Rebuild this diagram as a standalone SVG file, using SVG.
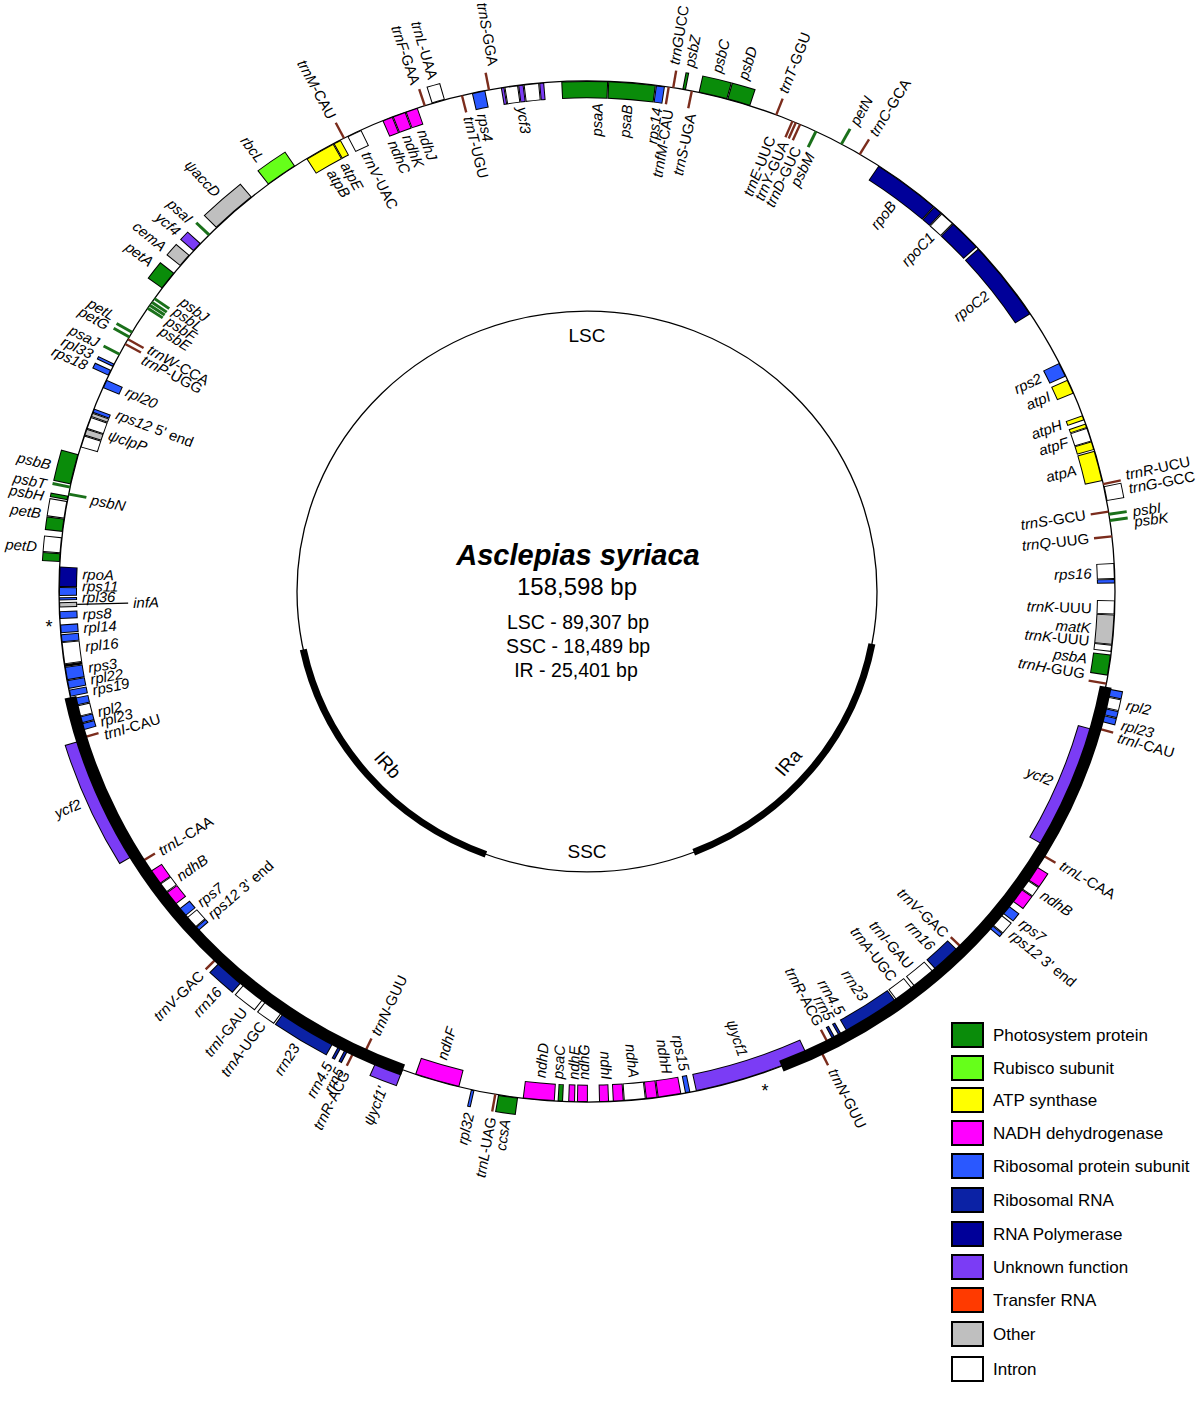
<svg xmlns="http://www.w3.org/2000/svg" width="1200" height="1403" viewBox="0 0 1200 1403">
<style>
text{font-family:"Liberation Sans",Arial,Helvetica,sans-serif;fill:#000}
.l{font-size:15px;dominant-baseline:central}
.a{text-anchor:start}.e{text-anchor:end}
.i{font-style:italic}
.o{fill:none;stroke:#000;stroke-width:18}
.f{fill:none;stroke-width:16}
.PS{stroke:#0a8c0a}.RU{stroke:#66ff1a}.AT{stroke:#ffff00}.ND{stroke:#ff00ff}.RP{stroke:#2a58ff}.RR{stroke:#0b22a5}.PO{stroke:#000099}.UN{stroke:#7b3cf5}.OT{stroke:#bfbfbf}.IN{stroke:#ffffff}
.t{stroke:#7b2c1c;stroke-width:2.4}
.g{stroke:#1a701a;stroke-width:3}
.ring{fill:none;stroke:#000;stroke-width:1.3}
.band{fill:none;stroke:#000;stroke-width:12}
.iband{fill:none;stroke:#000;stroke-width:7}
.ic{font-size:19px;text-anchor:middle;dominant-baseline:central}
.lg{font-size:17px}
.lb{stroke:#000;stroke-width:2}
</style>
<rect width="1200" height="1403" fill="#fff"/>
<g id="map" transform="translate(587,591.5) scale(1,0.967)">
<circle class="ring" r="528"/>
<g id="genes">
<!-- LSC right -->
<g id="psaA"><circle class="o" r="519" pathLength="360" stroke-dasharray="5.1 360" transform="rotate(267.2)"/><circle class="f PS" r="519" pathLength="360" stroke-dasharray="4.88 360" transform="rotate(267.31)"/><text class="l e i" transform="rotate(1.2) translate(0,-505) rotate(-90)">psaA</text></g>
<g id="psaB"><circle class="o" r="519" pathLength="360" stroke-dasharray="5.2 360" transform="rotate(-87.7)"/><circle class="f PS" r="519" pathLength="360" stroke-dasharray="4.98 360" transform="rotate(-87.59)"/><text class="l e i" transform="rotate(4.6) translate(0,-505) rotate(-90)">psaB</text></g>
<g id="rps14"><circle class="o" r="519" pathLength="360" stroke-dasharray="1 360" transform="rotate(-82.5)"/><circle class="f RP" r="519" pathLength="360" stroke-dasharray="0.78 360" transform="rotate(-82.39)"/><text class="l e i" transform="rotate(8) translate(0,-505) rotate(-90)">rps14</text></g>
<g id="trnfM-CAU"><line class="t" y1="-528" y2="-510" transform="rotate(8.9)"/><text class="l e" transform="rotate(9.3) translate(0,-505) rotate(-90)"><tspan class="i">trnfM</tspan>-CAU</text></g>
<g id="trnG-UCC"><line class="t" y1="-528" y2="-546" transform="rotate(9.4)"/><text class="l a" transform="rotate(9.1) translate(0,-552) rotate(-90)"><tspan class="i">trnG</tspan>UCC</text></g>
<g id="psbZ"><circle class="o" r="537" pathLength="360" stroke-dasharray="0.4 360" transform="rotate(-79.6)"/><circle class="f PS" r="537" pathLength="360" stroke-dasharray="0.18 360" transform="rotate(-79.49)"/><text class="l a i" transform="rotate(10.7) translate(0,-552) rotate(-90)">psbZ</text></g>
<g id="trnS-UGA"><line class="t" y1="-528" y2="-510" transform="rotate(11.45)"/><text class="l e" transform="rotate(11.9) translate(0,-505) rotate(-90)"><tspan class="i">trnS</tspan>-UGA</text></g>
<g id="psbC"><circle class="o" r="537" pathLength="360" stroke-dasharray="3.2 360" transform="rotate(-77.8)"/><circle class="f PS" r="537" pathLength="360" stroke-dasharray="2.98 360" transform="rotate(-77.69)"/><text class="l a i" transform="rotate(13.6) translate(0,-552) rotate(-90)">psbC</text></g>
<g id="psbD"><circle class="o" r="537" pathLength="360" stroke-dasharray="2.6 360" transform="rotate(-74.6)"/><circle class="f PS" r="537" pathLength="360" stroke-dasharray="2.38 360" transform="rotate(-74.49)"/><text class="l a i" transform="rotate(16.4) translate(0,-552) rotate(-90)">psbD</text></g>
<g id="trnT-GGU"><line class="t" y1="-528" y2="-546" transform="rotate(21)"/><text class="l a" transform="rotate(20.8) translate(0,-552) rotate(-90)"><tspan class="i">trnT</tspan>-GGU</text></g>
<g id="trnE-UUC"><line class="t" y1="-528" y2="-510" transform="rotate(22.9)"/><text class="l e" transform="rotate(21.4) translate(0,-505) rotate(-90)"><tspan class="i">trnE</tspan>-UUC</text></g>
<g id="trnY-GUA"><line class="t" y1="-528" y2="-510" transform="rotate(23.3)"/><text class="l e" transform="rotate(23) translate(0,-505) rotate(-90)"><tspan class="i">trnY</tspan>-GUA</text></g>
<g id="trnD-GUC"><line class="t" y1="-528" y2="-510" transform="rotate(23.8)"/><text class="l e" transform="rotate(24.6) translate(0,-505) rotate(-90)"><tspan class="i">trnD</tspan>-GUC</text></g>
<g id="psbM"><line class="g" y1="-528" y2="-510" transform="rotate(25.7)"/><text class="l e i" transform="rotate(26.3) translate(0,-505) rotate(-90)">psbM</text></g>
<g id="petN"><line class="g" y1="-528" y2="-546" transform="rotate(28.8)"/><text class="l a i" transform="rotate(28.9) translate(0,-552) rotate(-90)">petN</text></g>
<g id="trnC-GCA"><line class="t" y1="-528" y2="-546" transform="rotate(31.1)"/><text class="l a" transform="rotate(31.2) translate(0,-552) rotate(-90)"><tspan class="i">trnC</tspan>-GCA</text></g>
<g id="rpoB"><circle class="o" r="519" pathLength="360" stroke-dasharray="7.6 360" transform="rotate(-56.5)"/><circle class="f PO" r="519" pathLength="360" stroke-dasharray="7.38 360" transform="rotate(-56.39)"/><text class="l e i" transform="rotate(37.3) translate(0,-505) rotate(-90)">rpoB</text></g>
<g id="rpoC1"><circle class="o" r="519" pathLength="360" stroke-dasharray="1.1 360" transform="rotate(-48.9)"/><circle class="f PO" r="519" pathLength="360" stroke-dasharray="0.88 360" transform="rotate(-48.79)"/><circle class="o" r="519" pathLength="360" stroke-dasharray="1.7 360" transform="rotate(-47.8)"/><circle class="f IN" r="519" pathLength="360" stroke-dasharray="1.48 360" transform="rotate(-47.69)"/><circle class="o" r="519" pathLength="360" stroke-dasharray="3.7 360" transform="rotate(-46.1)"/><circle class="f PO" r="519" pathLength="360" stroke-dasharray="3.48 360" transform="rotate(-45.99)"/><text class="l e i" transform="rotate(43.1) translate(0,-505) rotate(-90)">rpoC1</text></g>
<g id="rpoC2"><circle class="o" r="519" pathLength="360" stroke-dasharray="9.3 360" transform="rotate(-42.2)"/><circle class="f PO" r="519" pathLength="360" stroke-dasharray="9.08 360" transform="rotate(-42.09)"/><text class="l e i" transform="rotate(52.5) translate(0,-505) rotate(-90)">rpoC2</text></g>
<g id="rps2"><circle class="o" r="519" pathLength="360" stroke-dasharray="1.7 360" transform="rotate(-26.6)"/><circle class="f RP" r="519" pathLength="360" stroke-dasharray="1.48 360" transform="rotate(-26.49)"/><text class="l e i" transform="rotate(64) translate(0,-505) rotate(-90)">rps2</text></g>
<g id="atpI"><circle class="o" r="519" pathLength="360" stroke-dasharray="1.7 360" transform="rotate(-24.5)"/><circle class="f AT" r="519" pathLength="360" stroke-dasharray="1.48 360" transform="rotate(-24.39)"/><text class="l e i" transform="rotate(66.4) translate(0,-505) rotate(-90)">atpI</text></g>
<g id="atpH"><circle class="o" r="519" pathLength="360" stroke-dasharray="0.6 360" transform="rotate(-20.2)"/><circle class="f AT" r="519" pathLength="360" stroke-dasharray="0.38 360" transform="rotate(-20.09)"/><text class="l e i" transform="rotate(70) translate(0,-505) rotate(-90)">atpH</text></g>
<g id="atpF"><circle class="o" r="519" pathLength="360" stroke-dasharray="0.5 360" transform="rotate(-19.2)"/><circle class="f AT" r="519" pathLength="360" stroke-dasharray="0.28 360" transform="rotate(-19.09)"/><circle class="o" r="519" pathLength="360" stroke-dasharray="1.6 360" transform="rotate(-18.7)"/><circle class="f IN" r="519" pathLength="360" stroke-dasharray="1.38 360" transform="rotate(-18.59)"/><circle class="o" r="519" pathLength="360" stroke-dasharray="1 360" transform="rotate(-17.1)"/><circle class="f AT" r="519" pathLength="360" stroke-dasharray="0.78 360" transform="rotate(-16.99)"/><text class="l e i" transform="rotate(72.2) translate(0,-505) rotate(-90)">atpF</text></g>
<g id="atpA"><circle class="o" r="519" pathLength="360" stroke-dasharray="3.5 360" transform="rotate(-16)"/><circle class="f AT" r="519" pathLength="360" stroke-dasharray="3.28 360" transform="rotate(-15.89)"/><text class="l e i" transform="rotate(75.6) translate(0,-505) rotate(-90)">atpA</text></g>
<g id="trnR-UCU"><line class="t" y1="-528" y2="-546" transform="rotate(77.85)"/><text class="l a" transform="rotate(77.4) translate(0,-552) rotate(-90)"><tspan class="i">trnR</tspan>-UCU</text></g>
<g id="trnG-GCC"><circle class="o" r="537" pathLength="360" stroke-dasharray="1.7 360" transform="rotate(-11.9)"/><circle class="f IN" r="537" pathLength="360" stroke-dasharray="1.48 360" transform="rotate(-11.79)"/><text class="l a" transform="rotate(78.9) translate(0,-552) rotate(-90)"><tspan class="i">trnG</tspan>-GCC</text></g>
<g id="trnS-GCU"><line class="t" y1="-528" y2="-510" transform="rotate(81)"/><text class="l e" transform="rotate(81) translate(0,-505) rotate(-90)"><tspan class="i">trnS</tspan>-GCU</text></g>
<g id="psbI"><line class="g" y1="-528" y2="-546" transform="rotate(81.3)"/><text class="l a i" transform="rotate(81.4) translate(0,-552) rotate(-90)">psbI</text></g>
<g id="psbK"><line class="g" y1="-528" y2="-546" transform="rotate(82)"/><text class="l a i" transform="rotate(82.5) translate(0,-552) rotate(-90)">psbK</text></g>
<g id="trnQ-UUG"><line class="t" y1="-528" y2="-510" transform="rotate(83.8)"/><text class="l e" transform="rotate(83.8) translate(0,-505) rotate(-90)"><tspan class="i">trnQ</tspan>-UUG</text></g>
<g id="rps16"><circle class="o" r="519" pathLength="360" stroke-dasharray="1.8 360" transform="rotate(-3.2)"/><circle class="f IN" r="519" pathLength="360" stroke-dasharray="1.58 360" transform="rotate(-3.09)"/><circle class="o" r="519" pathLength="360" stroke-dasharray="0.5 360" transform="rotate(-1.4)"/><circle class="f RP" r="519" pathLength="360" stroke-dasharray="0.28 360" transform="rotate(-1.29)"/><text class="l e i" transform="rotate(87.9) translate(0,-505) rotate(-90)">rps16</text></g>
<g id="trnK-UUU"><circle class="o" r="519" pathLength="360" stroke-dasharray="1.6 360" transform="rotate(1)"/><circle class="f IN" r="519" pathLength="360" stroke-dasharray="1.38 360" transform="rotate(1.11)"/><circle class="o" r="519" pathLength="360" stroke-dasharray="0.8 360" transform="rotate(6)"/><circle class="f IN" r="519" pathLength="360" stroke-dasharray="0.58 360" transform="rotate(6.11)"/><text class="l e" transform="rotate(92) translate(0,-505) rotate(-90)"><tspan class="i">trnK</tspan>-UUU</text><text class="l e" transform="rotate(95.8) translate(0,-505) rotate(-90)"><tspan class="i">trnK</tspan>-UUU</text></g>
<g id="matK"><circle class="o" r="519" pathLength="360" stroke-dasharray="3.4 360" transform="rotate(2.6)"/><circle class="f OT" r="519" pathLength="360" stroke-dasharray="3.18 360" transform="rotate(2.71)"/><text class="l e i" transform="rotate(94.3) translate(0,-505) rotate(-90)">matK</text></g>
<g id="psbA"><circle class="o" r="519" pathLength="360" stroke-dasharray="2.4 360" transform="rotate(7.1)"/><circle class="f PS" r="519" pathLength="360" stroke-dasharray="2.18 360" transform="rotate(7.21)"/><text class="l e i" transform="rotate(97.9) translate(0,-505) rotate(-90)">psbA</text></g>
<g id="trnH-GUG"><line class="t" y1="-528" y2="-510" transform="rotate(100.4)"/><text class="l e" transform="rotate(99.7) translate(0,-505) rotate(-90)"><tspan class="i">trnH</tspan>-GUG</text></g>
<!-- IRa -->
<g id="rpl2-a"><circle class="o" r="537" pathLength="360" stroke-dasharray="0.9 360" transform="rotate(10.9)"/><circle class="f RP" r="537" pathLength="360" stroke-dasharray="0.68 360" transform="rotate(11.01)"/><circle class="o" r="537" pathLength="360" stroke-dasharray="1.3 360" transform="rotate(11.8)"/><circle class="f IN" r="537" pathLength="360" stroke-dasharray="1.08 360" transform="rotate(11.91)"/><circle class="o" r="537" pathLength="360" stroke-dasharray="0.8 360" transform="rotate(13.1)"/><circle class="f RP" r="537" pathLength="360" stroke-dasharray="0.58 360" transform="rotate(13.21)"/><text class="l a i" transform="rotate(102.3) translate(0,-552) rotate(-90)">rpl2</text></g>
<g id="rpl23-a"><circle class="o" r="537" pathLength="360" stroke-dasharray="0.8 360" transform="rotate(13.9)"/><circle class="f RP" r="537" pathLength="360" stroke-dasharray="0.58 360" transform="rotate(14.01)"/><text class="l a i" transform="rotate(104.5) translate(0,-552) rotate(-90)">rpl23</text></g>
<g id="trnI-CAU-a"><line class="t" y1="-528" y2="-546" transform="rotate(105.5)"/><text class="l a" transform="rotate(105.9) translate(0,-552) rotate(-90)"><tspan class="i">trnI</tspan>-CAU</text></g>
<g id="ycf2-a"><circle class="o" r="519" pathLength="360" stroke-dasharray="14.2 360" transform="rotate(15.7)"/><circle class="f UN" r="519" pathLength="360" stroke-dasharray="13.98 360" transform="rotate(15.81)"/><text class="l e i" transform="rotate(112.9) translate(0,-505) rotate(-90)">ycf2</text></g>
<g id="trnL-CAA-a"><line class="t" y1="-528" y2="-546" transform="rotate(120.9)"/><text class="l a" transform="rotate(120.8) translate(0,-552) rotate(-90)"><tspan class="i">trnL</tspan>-CAA</text></g>
<g id="ndhB-a"><circle class="o" r="537" pathLength="360" stroke-dasharray="1.8 360" transform="rotate(32.3)"/><circle class="f ND" r="537" pathLength="360" stroke-dasharray="1.58 360" transform="rotate(32.41)"/><circle class="o" r="537" pathLength="360" stroke-dasharray="1.2 360" transform="rotate(34.1)"/><circle class="f IN" r="537" pathLength="360" stroke-dasharray="0.98 360" transform="rotate(34.21)"/><circle class="o" r="537" pathLength="360" stroke-dasharray="1.7 360" transform="rotate(35.3)"/><circle class="f ND" r="537" pathLength="360" stroke-dasharray="1.48 360" transform="rotate(35.41)"/><text class="l a i" transform="rotate(124.5) translate(0,-552) rotate(-90)">ndhB</text></g>
<g id="rps7-a"><circle class="o" r="537" pathLength="360" stroke-dasharray="1.1 360" transform="rotate(37.6)"/><circle class="f RP" r="537" pathLength="360" stroke-dasharray="0.88 360" transform="rotate(37.71)"/><text class="l a i" transform="rotate(128.2) translate(0,-552) rotate(-90)">rps7</text></g>
<g id="rps12-3-a"><circle class="o" r="537" pathLength="360" stroke-dasharray="1.5 360" transform="rotate(38.9)"/><circle class="f IN" r="537" pathLength="360" stroke-dasharray="1.28 360" transform="rotate(39.01)"/><circle class="o" r="537" pathLength="360" stroke-dasharray="0.5 360" transform="rotate(40.4)"/><circle class="f RP" r="537" pathLength="360" stroke-dasharray="0.28 360" transform="rotate(40.51)"/><text class="l a" transform="rotate(129.8) translate(0,-552) rotate(-90)"><tspan class="i">rps12</tspan> 3' end</text></g>
<g id="trnV-GAC-a"><line class="t" y1="-528" y2="-510" transform="rotate(134.5)"/><text class="l e" transform="rotate(134.7) translate(0,-505) rotate(-90)"><tspan class="i">trnV</tspan>-GAC</text></g>
<g id="rrn16-a"><circle class="o" r="519" pathLength="360" stroke-dasharray="3.3 360" transform="rotate(45)"/><circle class="f RR" r="519" pathLength="360" stroke-dasharray="3.08 360" transform="rotate(45.11)"/><text class="l e i" transform="rotate(136.9) translate(0,-505) rotate(-90)">rrn16</text></g>
<g id="trnI-GAU-a"><circle class="o" r="519" pathLength="360" stroke-dasharray="2.7 360" transform="rotate(48.6)"/><circle class="f IN" r="519" pathLength="360" stroke-dasharray="2.48 360" transform="rotate(48.71)"/><text class="l e" transform="rotate(140.2) translate(0,-505) rotate(-90)"><tspan class="i">trnI</tspan>-GAU</text></g>
<g id="trnA-UGC-a"><circle class="o" r="519" pathLength="360" stroke-dasharray="2.2 360" transform="rotate(51.6)"/><circle class="f IN" r="519" pathLength="360" stroke-dasharray="1.98 360" transform="rotate(51.71)"/><text class="l e" transform="rotate(142.6) translate(0,-505) rotate(-90)"><tspan class="i">trnA</tspan>-UGC</text></g>
<g id="rrn23-a"><circle class="o" r="519" pathLength="360" stroke-dasharray="6.4 360" transform="rotate(53.9)"/><circle class="f RR" r="519" pathLength="360" stroke-dasharray="6.18 360" transform="rotate(54.01)"/><text class="l e i" transform="rotate(146.7) translate(0,-505) rotate(-90)">rrn23</text></g>
<g id="rrn4.5-a"><circle class="o" r="519" pathLength="360" stroke-dasharray="0.4 360" transform="rotate(60.9)"/><circle class="f RR" r="519" pathLength="360" stroke-dasharray="0.18 360" transform="rotate(61.01)"/><text class="l e i" transform="rotate(149.8) translate(0,-505) rotate(-90)">rrn4.5</text></g>
<g id="rrn5-a"><circle class="o" r="519" pathLength="360" stroke-dasharray="0.4 360" transform="rotate(61.7)"/><circle class="f RR" r="519" pathLength="360" stroke-dasharray="0.18 360" transform="rotate(61.81)"/><text class="l e i" transform="rotate(151.2) translate(0,-505) rotate(-90)">rrn5</text></g>
<g id="trnR-ACG-a"><line class="t" y1="-528" y2="-510" transform="rotate(152.7)"/><text class="l e" transform="rotate(152.6) translate(0,-505) rotate(-90)"><tspan class="i">trnR</tspan>-ACG</text></g>
<g id="trnN-GUU-a"><line class="t" y1="-528" y2="-546" transform="rotate(153.8)"/><text class="l a" transform="rotate(153.6) translate(0,-552) rotate(-90)"><tspan class="i">trnN</tspan>-GUU</text></g>
<g id="ycf1"><circle class="o" r="519" pathLength="360" stroke-dasharray="12.8 360" transform="rotate(65.3)"/><circle class="f UN" r="519" pathLength="360" stroke-dasharray="12.58 360" transform="rotate(65.41)"/><text class="l e i" transform="rotate(162) translate(0,-505) rotate(-90)">ψycf1</text></g>
<!-- SSC -->
<g id="rps15"><circle class="o" r="519" pathLength="360" stroke-dasharray="0.6 360" transform="rotate(78.7)"/><circle class="f RP" r="519" pathLength="360" stroke-dasharray="0.38 360" transform="rotate(78.81)"/><text class="l e i" transform="rotate(168.9) translate(0,-505) rotate(-90)">rps15</text></g>
<g id="ndhH"><circle class="o" r="519" pathLength="360" stroke-dasharray="2.6 360" transform="rotate(79.7)"/><circle class="f ND" r="519" pathLength="360" stroke-dasharray="2.38 360" transform="rotate(79.81)"/><text class="l e i" transform="rotate(170.9) translate(0,-505) rotate(-90)">ndhH</text></g>
<g id="ndhA"><circle class="o" r="519" pathLength="360" stroke-dasharray="1.3 360" transform="rotate(82.3)"/><circle class="f ND" r="519" pathLength="360" stroke-dasharray="1.08 360" transform="rotate(82.41)"/><circle class="o" r="519" pathLength="360" stroke-dasharray="2.4 360" transform="rotate(83.6)"/><circle class="f IN" r="519" pathLength="360" stroke-dasharray="2.18 360" transform="rotate(83.71)"/><circle class="o" r="519" pathLength="360" stroke-dasharray="1.2 360" transform="rotate(86)"/><circle class="f ND" r="519" pathLength="360" stroke-dasharray="0.98 360" transform="rotate(86.11)"/><text class="l e i" transform="rotate(174.7) translate(0,-505) rotate(-90)">ndhA</text></g>
<g id="ndhI"><circle class="o" r="519" pathLength="360" stroke-dasharray="1.1 360" transform="rotate(87.6)"/><circle class="f ND" r="519" pathLength="360" stroke-dasharray="0.88 360" transform="rotate(87.71)"/><text class="l e i" transform="rotate(177.8) translate(0,-505) rotate(-90)">ndhI</text></g>
<g id="ndhG"><circle class="o" r="519" pathLength="360" stroke-dasharray="1.2 360" transform="rotate(89.9)"/><circle class="f ND" r="519" pathLength="360" stroke-dasharray="0.98 360" transform="rotate(90.01)"/><text class="l a i" transform="rotate(180.35) translate(0,-505) rotate(90)">ndhG</text></g>
<g id="ndhE"><circle class="o" r="519" pathLength="360" stroke-dasharray="0.75 360" transform="rotate(91.3)"/><circle class="f ND" r="519" pathLength="360" stroke-dasharray="0.53 360" transform="rotate(91.41)"/><text class="l a i" transform="rotate(181.5) translate(0,-505) rotate(90)">ndhE</text></g>
<g id="psaC"><circle class="o" r="519" pathLength="360" stroke-dasharray="0.6 360" transform="rotate(92.6)"/><circle class="f PS" r="519" pathLength="360" stroke-dasharray="0.38 360" transform="rotate(92.71)"/><text class="l a i" transform="rotate(183.3) translate(0,-505) rotate(90)">psaC</text></g>
<g id="ndhD"><circle class="o" r="519" pathLength="360" stroke-dasharray="3.5 360" transform="rotate(93.5)"/><circle class="f ND" r="519" pathLength="360" stroke-dasharray="3.28 360" transform="rotate(93.61)"/><text class="l a i" transform="rotate(185.3) translate(0,-505) rotate(90)">ndhD</text></g>
<g id="ccsA"><circle class="o" r="537" pathLength="360" stroke-dasharray="2.2 360" transform="rotate(97.5)"/><circle class="f PS" r="537" pathLength="360" stroke-dasharray="1.98 360" transform="rotate(97.61)"/><text class="l e i" transform="rotate(188.5) translate(0,-552) rotate(90)">ccsA</text></g>
<g id="trnL-UAG"><line class="t" y1="-528" y2="-546" transform="rotate(190)"/><text class="l e" transform="rotate(190) translate(0,-552) rotate(90)"><tspan class="i">trnL</tspan>-UAG</text></g>
<g id="rpl32"><circle class="o" r="537" pathLength="360" stroke-dasharray="0.4 360" transform="rotate(102.3)"/><circle class="f RP" r="537" pathLength="360" stroke-dasharray="0.18 360" transform="rotate(102.41)"/><text class="l e i" transform="rotate(192.3) translate(0,-552) rotate(90)">rpl32</text></g>
<g id="ndhF"><circle class="o" r="519" pathLength="360" stroke-dasharray="5 360" transform="rotate(104)"/><circle class="f ND" r="519" pathLength="360" stroke-dasharray="4.78 360" transform="rotate(104.11)"/><text class="l a i" transform="rotate(196.7) translate(0,-505) rotate(90)">ndhF</text></g>
<g id="ycf1-b"><circle class="o" r="537" pathLength="360" stroke-dasharray="3.1 360" transform="rotate(110.4)"/><circle class="f UN" r="537" pathLength="360" stroke-dasharray="2.88 360" transform="rotate(110.51)"/><text class="l e i" transform="rotate(201.7) translate(0,-552) rotate(90)">ψycf1'</text></g>
<!-- IRb -->
<g id="trnN-GUU-b"><line class="t" y1="-528" y2="-510" transform="rotate(205)"/><text class="l a" transform="rotate(204.8) translate(0,-505) rotate(90)"><tspan class="i">trnN</tspan>-GUU</text></g>
<g id="trnR-ACG-b"><line class="t" y1="-528" y2="-546" transform="rotate(206.1)"/><text class="l e" transform="rotate(205.9) translate(0,-552) rotate(90)"><tspan class="i">trnR</tspan>-ACG</text></g>
<g id="rrn5-b"><circle class="o" r="537" pathLength="360" stroke-dasharray="0.4 360" transform="rotate(116.7)"/><circle class="f RR" r="537" pathLength="360" stroke-dasharray="0.18 360" transform="rotate(116.81)"/><text class="l e i" transform="rotate(206.6) translate(0,-552) rotate(90)">rrn5</text></g>
<g id="rrn4.5-b"><circle class="o" r="537" pathLength="360" stroke-dasharray="0.4 360" transform="rotate(117.5)"/><circle class="f RR" r="537" pathLength="360" stroke-dasharray="0.18 360" transform="rotate(117.61)"/><text class="l e i" transform="rotate(207.9) translate(0,-552) rotate(90)">rrn4.5</text></g>
<g id="rrn23-b"><circle class="o" r="537" pathLength="360" stroke-dasharray="6.4 360" transform="rotate(118.5)"/><circle class="f RR" r="537" pathLength="360" stroke-dasharray="6.18 360" transform="rotate(118.61)"/><text class="l e i" transform="rotate(211.8) translate(0,-552) rotate(90)">rrn23</text></g>
<g id="trnA-UGC-b"><circle class="o" r="537" pathLength="360" stroke-dasharray="2.2 360" transform="rotate(125)"/><circle class="f IN" r="537" pathLength="360" stroke-dasharray="1.98 360" transform="rotate(125.11)"/><text class="l e" transform="rotate(216) translate(0,-552) rotate(90)"><tspan class="i">trnA</tspan>-UGC</text></g>
<g id="trnI-GAU-b"><circle class="o" r="537" pathLength="360" stroke-dasharray="2.7 360" transform="rotate(127.5)"/><circle class="f IN" r="537" pathLength="360" stroke-dasharray="2.48 360" transform="rotate(127.61)"/><text class="l e" transform="rotate(218.4) translate(0,-552) rotate(90)"><tspan class="i">trnI</tspan>-GAU</text></g>
<g id="rrn16-b"><circle class="o" r="537" pathLength="360" stroke-dasharray="3.3 360" transform="rotate(130.5)"/><circle class="f RR" r="537" pathLength="360" stroke-dasharray="3.08 360" transform="rotate(130.61)"/><text class="l e i" transform="rotate(221.8) translate(0,-552) rotate(90)">rrn16</text></g>
<g id="trnV-GAC-b"><line class="t" y1="-528" y2="-546" transform="rotate(224.3)"/><text class="l e" transform="rotate(224.3) translate(0,-552) rotate(90)"><tspan class="i">trnV</tspan>-GAC</text></g>
<g id="rps12-3-b"><circle class="o" r="519" pathLength="360" stroke-dasharray="0.5 360" transform="rotate(137.9)"/><circle class="f RP" r="519" pathLength="360" stroke-dasharray="0.28 360" transform="rotate(138.01)"/><circle class="o" r="519" pathLength="360" stroke-dasharray="1.5 360" transform="rotate(138.4)"/><circle class="f IN" r="519" pathLength="360" stroke-dasharray="1.28 360" transform="rotate(138.51)"/><text class="l a" transform="rotate(228.3) translate(0,-505) rotate(90)"><tspan class="i">rps12</tspan> 3' end</text></g>
<g id="rps7-b"><circle class="o" r="519" pathLength="360" stroke-dasharray="1.1 360" transform="rotate(140.1)"/><circle class="f RP" r="519" pathLength="360" stroke-dasharray="0.88 360" transform="rotate(140.21)"/><text class="l a i" transform="rotate(230.2) translate(0,-505) rotate(90)">rps7</text></g>
<g id="ndhB-b"><circle class="o" r="519" pathLength="360" stroke-dasharray="1.7 360" transform="rotate(141.8)"/><circle class="f ND" r="519" pathLength="360" stroke-dasharray="1.48 360" transform="rotate(141.91)"/><circle class="o" r="519" pathLength="360" stroke-dasharray="1.2 360" transform="rotate(143.5)"/><circle class="f IN" r="519" pathLength="360" stroke-dasharray="0.98 360" transform="rotate(143.61)"/><circle class="o" r="519" pathLength="360" stroke-dasharray="1.8 360" transform="rotate(144.7)"/><circle class="f ND" r="519" pathLength="360" stroke-dasharray="1.58 360" transform="rotate(144.81)"/><text class="l a i" transform="rotate(234.1) translate(0,-505) rotate(90)">ndhB</text></g>
<g id="trnL-CAA-b"><line class="t" y1="-528" y2="-510" transform="rotate(237.9)"/><text class="l a" transform="rotate(237.8) translate(0,-505) rotate(90)"><tspan class="i">trnL</tspan>-CAA</text></g>
<g id="ycf2-b"><circle class="o" r="537" pathLength="360" stroke-dasharray="14.2 360" transform="rotate(148.9)"/><circle class="f UN" r="537" pathLength="360" stroke-dasharray="13.98 360" transform="rotate(149.01)"/><text class="l e i" transform="rotate(246.6) translate(0,-552) rotate(90)">ycf2</text></g>
<g id="trnI-CAU-b"><line class="t" y1="-528" y2="-510" transform="rotate(253.3)"/><text class="l a" transform="rotate(252.9) translate(0,-505) rotate(90)"><tspan class="i">trnI</tspan>-CAU</text></g>
<g id="rpl23-b"><circle class="o" r="519" pathLength="360" stroke-dasharray="0.8 360" transform="rotate(164.1)"/><circle class="f RP" r="519" pathLength="360" stroke-dasharray="0.58 360" transform="rotate(164.21)"/><text class="l a i" transform="rotate(254.5) translate(0,-505) rotate(90)">rpl23</text></g>
<g id="rpl2-b"><circle class="o" r="519" pathLength="360" stroke-dasharray="0.8 360" transform="rotate(164.9)"/><circle class="f RP" r="519" pathLength="360" stroke-dasharray="0.58 360" transform="rotate(165.01)"/><circle class="o" r="519" pathLength="360" stroke-dasharray="1.3 360" transform="rotate(165.7)"/><circle class="f IN" r="519" pathLength="360" stroke-dasharray="1.08 360" transform="rotate(165.81)"/><circle class="o" r="519" pathLength="360" stroke-dasharray="0.9 360" transform="rotate(167)"/><circle class="f RP" r="519" pathLength="360" stroke-dasharray="0.68 360" transform="rotate(167.11)"/><text class="l a i" transform="rotate(255.7) translate(0,-505) rotate(90)">rpl2</text></g>
<!-- LSC left -->
<g id="rps19"><circle class="o" r="519" pathLength="360" stroke-dasharray="0.8 360" transform="rotate(168.1)"/><circle class="f RP" r="519" pathLength="360" stroke-dasharray="0.58 360" transform="rotate(168.21)"/><text class="l a i" transform="rotate(258.3) translate(0,-505) rotate(90)">rps19</text></g>
<g id="rpl22"><circle class="o" r="519" pathLength="360" stroke-dasharray="1 360" transform="rotate(169)"/><circle class="f RP" r="519" pathLength="360" stroke-dasharray="0.78 360" transform="rotate(169.11)"/><text class="l a i" transform="rotate(259.6) translate(0,-505) rotate(90)">rpl22</text></g>
<g id="rps3"><circle class="o" r="519" pathLength="360" stroke-dasharray="1.5 360" transform="rotate(170)"/><circle class="f RP" r="519" pathLength="360" stroke-dasharray="1.28 360" transform="rotate(170.11)"/><text class="l a i" transform="rotate(261) translate(0,-505) rotate(90)">rps3</text></g>
<g id="rpl16"><circle class="o" r="519" pathLength="360" stroke-dasharray="0.3 360" transform="rotate(171.5)"/><circle class="o" r="519" pathLength="360" stroke-dasharray="2.5 360" transform="rotate(171.8)"/><circle class="f IN" r="519" pathLength="360" stroke-dasharray="2.28 360" transform="rotate(171.91)"/><circle class="o" r="519" pathLength="360" stroke-dasharray="0.9 360" transform="rotate(174.3)"/><circle class="f RP" r="519" pathLength="360" stroke-dasharray="0.68 360" transform="rotate(174.41)"/><text class="l a i" transform="rotate(263.5) translate(0,-505) rotate(90)">rpl16</text></g>
<g id="rpl14"><circle class="o" r="519" pathLength="360" stroke-dasharray="1 360" transform="rotate(175.3)"/><circle class="f RP" r="519" pathLength="360" stroke-dasharray="0.78 360" transform="rotate(175.41)"/><text class="l a i" transform="rotate(265.7) translate(0,-505) rotate(90)">rpl14</text></g>
<g id="rps8"><circle class="o" r="519" pathLength="360" stroke-dasharray="0.9 360" transform="rotate(176.9)"/><circle class="f RP" r="519" pathLength="360" stroke-dasharray="0.68 360" transform="rotate(177.01)"/><text class="l a i" transform="rotate(267.3) translate(0,-505) rotate(90)">rps8</text></g>
<g id="infA"><circle class="o" r="519" pathLength="360" stroke-dasharray="0.6 360" transform="rotate(178.2)"/><circle class="f OT" r="519" pathLength="360" stroke-dasharray="0.38 360" transform="rotate(178.31)"/><text class="l a i" transform="rotate(268.5) translate(0,-454) rotate(90)">infA</text></g>
<g id="rpl36"><circle class="o" r="519" pathLength="360" stroke-dasharray="0.35 360" transform="rotate(179)"/><circle class="f RP" r="519" pathLength="360" stroke-dasharray="0.13 360" transform="rotate(179.11)"/><text class="l a i" transform="rotate(269.3) translate(0,-505) rotate(90)">rpl36</text></g>
<g id="rps11"><circle class="o" r="519" pathLength="360" stroke-dasharray="1 360" transform="rotate(179.5)"/><circle class="f RP" r="519" pathLength="360" stroke-dasharray="0.78 360" transform="rotate(179.61)"/><text class="l a i" transform="rotate(270.6) translate(0,-505) rotate(90)">rps11</text></g>
<g id="rpoA"><circle class="o" r="519" pathLength="360" stroke-dasharray="2.3 360" transform="rotate(180.5)"/><circle class="f PO" r="519" pathLength="360" stroke-dasharray="2.08 360" transform="rotate(180.61)"/><text class="l a i" transform="rotate(272) translate(0,-505) rotate(90)">rpoA</text></g>
<g id="petD"><circle class="o" r="537" pathLength="360" stroke-dasharray="1 360" transform="rotate(183.3)"/><circle class="f PS" r="537" pathLength="360" stroke-dasharray="0.78 360" transform="rotate(183.41)"/><circle class="o" r="537" pathLength="360" stroke-dasharray="1.8 360" transform="rotate(184.3)"/><circle class="f IN" r="537" pathLength="360" stroke-dasharray="1.58 360" transform="rotate(184.41)"/><text class="l e i" transform="rotate(274.8) translate(0,-552) rotate(90)">petD</text></g>
<g id="petB"><circle class="o" r="537" pathLength="360" stroke-dasharray="1.5 360" transform="rotate(186.7)"/><circle class="f PS" r="537" pathLength="360" stroke-dasharray="1.28 360" transform="rotate(186.81)"/><circle class="o" r="537" pathLength="360" stroke-dasharray="2 360" transform="rotate(188.2)"/><circle class="f IN" r="537" pathLength="360" stroke-dasharray="1.78 360" transform="rotate(188.31)"/><text class="l e i" transform="rotate(278.4) translate(0,-552) rotate(90)">petB</text></g>
<g id="psbH"><circle class="o" r="537" pathLength="360" stroke-dasharray="0.5 360" transform="rotate(190.3)"/><circle class="f PS" r="537" pathLength="360" stroke-dasharray="0.28 360" transform="rotate(190.41)"/><text class="l e i" transform="rotate(280.3) translate(0,-552) rotate(90)">psbH</text></g>
<g id="psbN"><line class="g" y1="-528" y2="-510" transform="rotate(281)"/><text class="l a i" transform="rotate(280.8) translate(0,-505) rotate(90)">psbN</text></g>
<g id="psbT"><line class="g" y1="-528" y2="-546" transform="rotate(281.8)"/><text class="l e i" transform="rotate(281.6) translate(0,-552) rotate(90)">psbT</text></g>
<g id="psbB"><circle class="o" r="537" pathLength="360" stroke-dasharray="3.5 360" transform="rotate(192.1)"/><circle class="f PS" r="537" pathLength="360" stroke-dasharray="3.28 360" transform="rotate(192.21)"/><text class="l e i" transform="rotate(283.7) translate(0,-552) rotate(90)">psbB</text></g>
<g id="clpP"><circle class="o" r="519" pathLength="360" stroke-dasharray="1.4 360" transform="rotate(196.4)"/><circle class="f IN" r="519" pathLength="360" stroke-dasharray="1.18 360" transform="rotate(196.51)"/><circle class="o" r="519" pathLength="360" stroke-dasharray="0.8 360" transform="rotate(197.8)"/><circle class="f OT" r="519" pathLength="360" stroke-dasharray="0.58 360" transform="rotate(197.91)"/><circle class="o" r="519" pathLength="360" stroke-dasharray="1.4 360" transform="rotate(198.6)"/><circle class="f IN" r="519" pathLength="360" stroke-dasharray="1.18 360" transform="rotate(198.71)"/><circle class="o" r="519" pathLength="360" stroke-dasharray="0.5 360" transform="rotate(200)"/><circle class="f OT" r="519" pathLength="360" stroke-dasharray="0.28 360" transform="rotate(200.11)"/><text class="l a i" transform="rotate(288.7) translate(0,-505) rotate(90)">ψclpP</text></g>
<g id="rps12-5"><circle class="o" r="519" pathLength="360" stroke-dasharray="0.5 360" transform="rotate(200.5)"/><circle class="f RP" r="519" pathLength="360" stroke-dasharray="0.28 360" transform="rotate(200.61)"/><text class="l a" transform="rotate(291.3) translate(0,-505) rotate(90)"><tspan class="i">rps12</tspan> 5' end</text></g>
<g id="rpl20"><circle class="o" r="519" pathLength="360" stroke-dasharray="1 360" transform="rotate(203.5)"/><circle class="f RP" r="519" pathLength="360" stroke-dasharray="0.78 360" transform="rotate(203.61)"/><text class="l a i" transform="rotate(294.2) translate(0,-505) rotate(90)">rpl20</text></g>
<g id="rps18"><circle class="o" r="537" pathLength="360" stroke-dasharray="0.7 360" transform="rotate(205)"/><circle class="f RP" r="537" pathLength="360" stroke-dasharray="0.48 360" transform="rotate(205.11)"/><text class="l e i" transform="rotate(295) translate(0,-552) rotate(90)">rps18</text></g>
<g id="rpl33"><circle class="o" r="537" pathLength="360" stroke-dasharray="0.4 360" transform="rotate(206.1)"/><circle class="f RP" r="537" pathLength="360" stroke-dasharray="0.18 360" transform="rotate(206.21)"/><text class="l e i" transform="rotate(296.3) translate(0,-552) rotate(90)">rpl33</text></g>
<g id="psaJ"><line class="g" y1="-528" y2="-546" transform="rotate(297.7)"/><text class="l e i" transform="rotate(297.7) translate(0,-552) rotate(90)">psaJ</text></g>
<g id="trnP-UGG"><line class="t" y1="-528" y2="-510" transform="rotate(299)"/><text class="l a" transform="rotate(298.4) translate(0,-505) rotate(90)"><tspan class="i">trnP</tspan>-UGG</text></g>
<g id="trnW-CCA"><line class="t" y1="-528" y2="-510" transform="rotate(299.6)"/><text class="l a" transform="rotate(299.8) translate(0,-505) rotate(90)"><tspan class="i">trnW</tspan>-CCA</text></g>
<g id="petG"><line class="g" y1="-528" y2="-546" transform="rotate(299.9)"/><text class="l e i" transform="rotate(299.8) translate(0,-552) rotate(90)">petG</text></g>
<g id="petL"><line class="g" y1="-528" y2="-546" transform="rotate(300.5)"/><text class="l e i" transform="rotate(301) translate(0,-552) rotate(90)">petL</text></g>
<g id="psbE"><line class="g" y1="-528" y2="-510" transform="rotate(303.7)"/><text class="l a i" transform="rotate(302.4) translate(0,-505) rotate(90)">psbE</text></g>
<g id="psbF"><line class="g" y1="-528" y2="-510" transform="rotate(304.1)"/><text class="l a i" transform="rotate(303.8) translate(0,-505) rotate(90)">psbF</text></g>
<g id="psbL"><line class="g" y1="-528" y2="-510" transform="rotate(304.5)"/><text class="l a i" transform="rotate(305.2) translate(0,-505) rotate(90)">psbL</text></g>
<g id="psbJ"><line class="g" y1="-528" y2="-510" transform="rotate(305)"/><text class="l a i" transform="rotate(306.6) translate(0,-505) rotate(90)">psbJ</text></g>
<g id="petA"><circle class="o" r="537" pathLength="360" stroke-dasharray="2.2 360" transform="rotate(216.4)"/><circle class="f PS" r="537" pathLength="360" stroke-dasharray="1.98 360" transform="rotate(216.51)"/><text class="l e i" transform="rotate(307.9) translate(0,-552) rotate(90)">petA</text></g>
<g id="cemA"><circle class="o" r="537" pathLength="360" stroke-dasharray="1.6 360" transform="rotate(219.6)"/><circle class="f OT" r="537" pathLength="360" stroke-dasharray="1.38 360" transform="rotate(219.71)"/><text class="l e i" transform="rotate(310) translate(0,-552) rotate(90)">cemA</text></g>
<g id="ycf4"><circle class="o" r="537" pathLength="360" stroke-dasharray="1.2 360" transform="rotate(221.8)"/><circle class="f UN" r="537" pathLength="360" stroke-dasharray="0.98 360" transform="rotate(221.91)"/><text class="l e i" transform="rotate(312.2) translate(0,-552) rotate(90)">ycf4</text></g>
<g id="psaI"><line class="g" y1="-528" y2="-546" transform="rotate(314.3)"/><text class="l e i" transform="rotate(314) translate(0,-552) rotate(90)">psaI</text></g>
<g id="accD"><circle class="o" r="537" pathLength="360" stroke-dasharray="5.2 360" transform="rotate(225.4)"/><circle class="f OT" r="537" pathLength="360" stroke-dasharray="4.98 360" transform="rotate(225.51)"/><text class="l e i" transform="rotate(318) translate(0,-552) rotate(90)">ψaccD</text></g>
<g id="rbcL"><circle class="o" r="537" pathLength="360" stroke-dasharray="3.6 360" transform="rotate(232.85)"/><circle class="f RU" r="537" pathLength="360" stroke-dasharray="3.38 360" transform="rotate(232.96)"/><text class="l e i" transform="rotate(323.8) translate(0,-552) rotate(90)">rbcL</text></g>
<g id="atpB"><circle class="o" r="519" pathLength="360" stroke-dasharray="3.4 360" transform="rotate(237.9)"/><circle class="f AT" r="519" pathLength="360" stroke-dasharray="3.18 360" transform="rotate(238.01)"/><text class="l a i" transform="rotate(329.5) translate(0,-505) rotate(90)">atpB</text></g>
<g id="atpE"><circle class="o" r="519" pathLength="360" stroke-dasharray="0.9 360" transform="rotate(241.3)"/><circle class="f AT" r="519" pathLength="360" stroke-dasharray="0.68 360" transform="rotate(241.41)"/><text class="l a i" transform="rotate(331.3) translate(0,-505) rotate(90)">atpE</text></g>
<g id="trnM-CAU"><line class="t" y1="-528" y2="-546" transform="rotate(332.6)"/><text class="l e" transform="rotate(332.5) translate(0,-552) rotate(90)"><tspan class="i">trnM</tspan>-CAU</text></g>
<g id="trnV-UAC"><circle class="o" r="519" pathLength="360" stroke-dasharray="1.7 360" transform="rotate(243)"/><circle class="f IN" r="519" pathLength="360" stroke-dasharray="1.48 360" transform="rotate(243.11)"/><text class="l a" transform="rotate(334) translate(0,-505) rotate(90)"><tspan class="i">trnV</tspan>-UAC</text></g>
<g id="ndhC"><circle class="o" r="519" pathLength="360" stroke-dasharray="1.2 360" transform="rotate(247.2)"/><circle class="f ND" r="519" pathLength="360" stroke-dasharray="0.98 360" transform="rotate(247.31)"/><text class="l a i" transform="rotate(337.3) translate(0,-505) rotate(90)">ndhC</text></g>
<g id="ndhK"><circle class="o" r="519" pathLength="360" stroke-dasharray="1.5 360" transform="rotate(248.4)"/><circle class="f ND" r="519" pathLength="360" stroke-dasharray="1.28 360" transform="rotate(248.51)"/><text class="l a i" transform="rotate(339.1) translate(0,-505) rotate(90)">ndhK</text></g>
<g id="ndhJ"><circle class="o" r="519" pathLength="360" stroke-dasharray="1.4 360" transform="rotate(249.9)"/><circle class="f ND" r="519" pathLength="360" stroke-dasharray="1.18 360" transform="rotate(250.01)"/><text class="l a i" transform="rotate(340.9) translate(0,-505) rotate(90)">ndhJ</text></g>
<g id="trnF-GAA"><line class="t" y1="-528" y2="-546" transform="rotate(342.1)"/><text class="l e" transform="rotate(341.9) translate(0,-552) rotate(90)"><tspan class="i">trnF</tspan>-GAA</text></g>
<g id="trnL-UAA"><circle class="o" r="537" pathLength="360" stroke-dasharray="1.5 360" transform="rotate(252.9)"/><circle class="f IN" r="537" pathLength="360" stroke-dasharray="1.28 360" transform="rotate(253.01)"/><text class="l e" transform="rotate(343.8) translate(0,-552) rotate(90)"><tspan class="i">trnL</tspan>-UAA</text></g>
<g id="trnT-UGU"><line class="t" y1="-528" y2="-510" transform="rotate(346.3)"/><text class="l a" transform="rotate(346.4) translate(0,-505) rotate(90)"><tspan class="i">trnT</tspan>-UGU</text></g>
<g id="rps4"><circle class="o" r="519" pathLength="360" stroke-dasharray="1.5 360" transform="rotate(257.4)"/><circle class="f RP" r="519" pathLength="360" stroke-dasharray="1.28 360" transform="rotate(257.51)"/><text class="l a i" transform="rotate(348) translate(0,-505) rotate(90)">rps4</text></g>
<g id="trnS-GGA"><line class="t" y1="-528" y2="-546" transform="rotate(349.3)"/><text class="l e" transform="rotate(350.2) translate(0,-552) rotate(90)"><tspan class="i">trnS</tspan>-GGA</text></g>
<g id="ycf3"><circle class="o" r="519" pathLength="360" stroke-dasharray="0.4 360" transform="rotate(260.6)"/><circle class="f UN" r="519" pathLength="360" stroke-dasharray="0.18 360" transform="rotate(260.71)"/><circle class="o" r="519" pathLength="360" stroke-dasharray="1.5 360" transform="rotate(261)"/><circle class="f IN" r="519" pathLength="360" stroke-dasharray="1.28 360" transform="rotate(261.11)"/><circle class="o" r="519" pathLength="360" stroke-dasharray="0.6 360" transform="rotate(262.5)"/><circle class="f UN" r="519" pathLength="360" stroke-dasharray="0.38 360" transform="rotate(262.61)"/><circle class="o" r="519" pathLength="360" stroke-dasharray="1.7 360" transform="rotate(263.1)"/><circle class="f IN" r="519" pathLength="360" stroke-dasharray="1.48 360" transform="rotate(263.21)"/><circle class="o" r="519" pathLength="360" stroke-dasharray="0.55 360" transform="rotate(264.8)"/><circle class="f UN" r="519" pathLength="360" stroke-dasharray="0.33 360" transform="rotate(264.91)"/><text class="l a i" transform="rotate(352.6) translate(0,-505) rotate(90)">ycf3</text></g>
</g>
<g id="ir-bands">
<circle class="band" r="528" pathLength="360" stroke-dasharray="57.65 360" transform="rotate(10.75)"/>
<circle class="band" r="528" pathLength="360" stroke-dasharray="57.65 360" transform="rotate(110.4)"/>
</g>
<g id="connectors">
<line stroke="#000" stroke-width="1.3" y1="-510" y2="-459" transform="rotate(268.5)"/>
</g>
<g id="inner">
<circle class="ring" r="290"/>
<circle class="iband" r="290" pathLength="360" stroke-dasharray="57.65 360" transform="rotate(10.75)"/>
<circle class="iband" r="290" pathLength="360" stroke-dasharray="57.65 360" transform="rotate(110.4)"/>
<text class="ic" x="0" y="-265">LSC</text>
<text class="ic" x="0" y="269">SSC</text>
<text class="ic" transform="rotate(131.3) translate(0,-268) rotate(180)">IRa</text>
<text class="ic" transform="rotate(228) translate(0,-268) rotate(180)">IRb</text>
</g>
</g>
<g id="asterisks" font-size="18" text-anchor="middle">
<text x="49" y="633">*</text>
<text x="765" y="1097">*</text>
</g>
<g id="title" text-anchor="middle">
<text x="578" y="565" font-size="29" font-weight="bold" font-style="italic">Asclepias syriaca</text>
<text x="577" y="595" font-size="24">158,598 bp</text>
<text x="578" y="629" font-size="19.5">LSC - 89,307 bp</text>
<text x="578" y="653" font-size="19.5">SSC - 18,489 bp</text>
<text x="576" y="677" font-size="19.5">IR - 25,401 bp</text>
</g>
<g id="legend">
<rect class="lb" x="952" y="1023" width="31" height="24" fill="#0a8c0a"/><text class="lg" x="993" y="1041">Photosystem protein</text>
<rect class="lb" x="952" y="1056" width="31" height="24" fill="#66ff1a"/><text class="lg" x="993" y="1074">Rubisco subunit</text>
<rect class="lb" x="952" y="1088" width="31" height="24" fill="#ffff00"/><text class="lg" x="993" y="1106">ATP synthase</text>
<rect class="lb" x="952" y="1121" width="31" height="24" fill="#ff00ff"/><text class="lg" x="993" y="1139">NADH dehydrogenase</text>
<rect class="lb" x="952" y="1154" width="31" height="24" fill="#2a58ff"/><text class="lg" x="993" y="1172">Ribosomal protein subunit</text>
<rect class="lb" x="952" y="1188" width="31" height="24" fill="#0b22a5"/><text class="lg" x="993" y="1206">Ribosomal RNA</text>
<rect class="lb" x="952" y="1222" width="31" height="24" fill="#000099"/><text class="lg" x="993" y="1240">RNA Polymerase</text>
<rect class="lb" x="952" y="1255" width="31" height="24" fill="#7b3cf5"/><text class="lg" x="993" y="1273">Unknown function</text>
<rect class="lb" x="952" y="1288" width="31" height="24" fill="#ff3a00"/><text class="lg" x="993" y="1306">Transfer RNA</text>
<rect class="lb" x="952" y="1322" width="31" height="24" fill="#bfbfbf"/><text class="lg" x="993" y="1340">Other</text>
<rect class="lb" x="952" y="1357" width="31" height="24" fill="#ffffff"/><text class="lg" x="993" y="1375">Intron</text>
</g>
</svg>
